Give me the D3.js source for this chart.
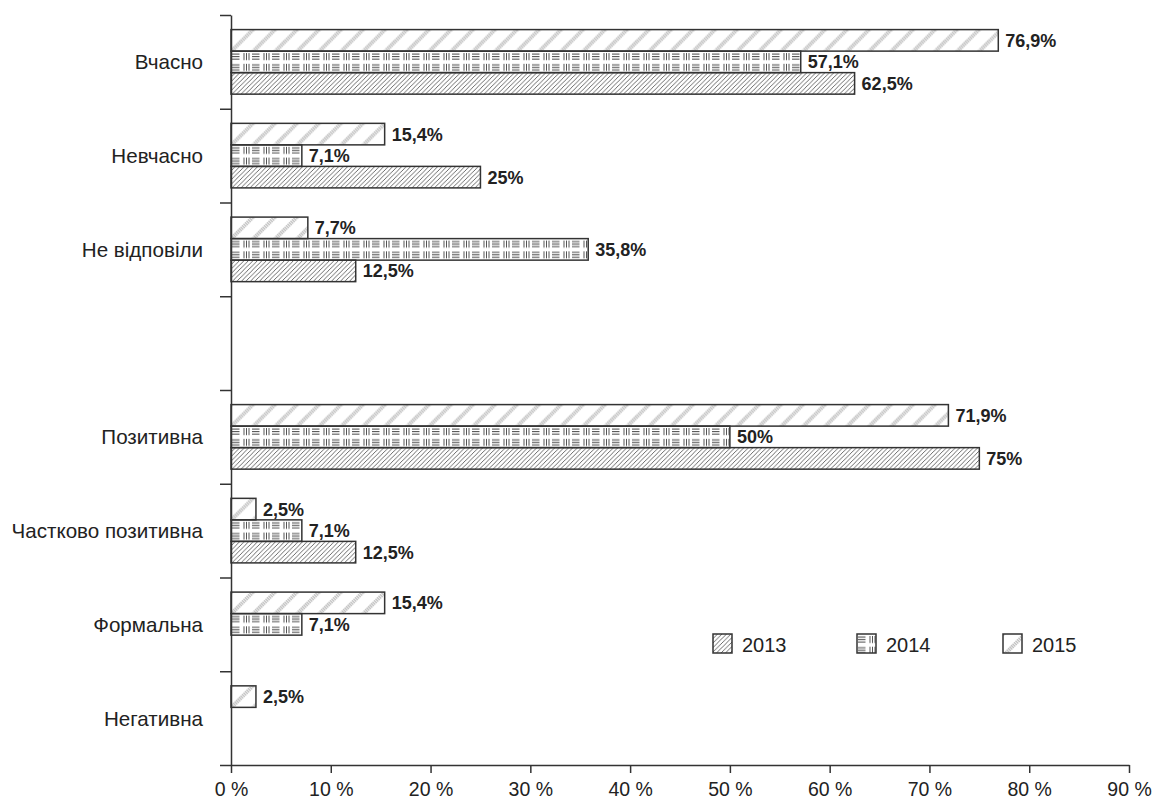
<!DOCTYPE html>
<html>
<head>
<meta charset="utf-8">
<script src="https://cdn.jsdelivr.net/npm/d3@7"></script>
<style>
  body { margin: 0; background: #fff; }
  svg { font-family: "Liberation Sans", Arial, sans-serif; }
</style>
</head>
<body>
<svg width="1155" height="800"></svg>
<script>
// categories (empty slot = gap between the two groups)
var categories = ["Вчасно", "Невчасно", "Не відповіли", "", "Позитивна", "Частково позитивна", "Формальна", "Негативна"];
var years = ["2015", "2014", "2013"];           // order inside each band, top to bottom
var legendYears = ["2013", "2014", "2015"];
var values2013 = [62.5, 25, 12.5, null, 75, 12.5, null, null];
var values2014 = [57.1, 7.1, 35.8, null, 50, 7.1, 7.1, null];
var values2015 = [76.9, 15.4, 7.7, null, 71.9, 2.5, 15.4, 2.5];
var xTicks = [0, 10, 20, 30, 40, 50, 60, 70, 80, 90];

var series = {"2013": values2013, "2014": values2014, "2015": values2015};

var svg = d3.select("svg"),
    margin = {top: 15, left: 231},
    width = 898,
    height = 750,
    g = svg.append("g").attr("transform", "translate(" + margin.left + "," + margin.top + ")");

// patterns
var defs = svg.append("defs");

var p13 = defs.append("pattern").attr("id", "p2013")
    .attr("patternUnits", "userSpaceOnUse").attr("width", 4.5).attr("height", 4.5);
p13.append("path")
    .attr("d", "M-1,5.5L5.5,-1M-1,1L1,-1M3.5,5.5L5.5,3.5")
    .attr("stroke", "#444").attr("stroke-width", 0.8).attr("fill", "none");

var p14 = defs.append("pattern").attr("id", "p2014")
    .attr("patternUnits", "userSpaceOnUse").attr("width", 20).attr("height", 21.5);
[0, 10.75].forEach(function(oy) {
  [2.5, 5, 7.5].forEach(function(d) {
    p14.append("line").attr("x1", 1).attr("x2", 8.5).attr("y1", oy + d + 0.5).attr("y2", oy + d + 0.5)
      .attr("stroke", "#444").attr("stroke-width", 1);
    p14.append("line").attr("x1", 10.5 + d).attr("x2", 10.5 + d).attr("y1", oy + 2).attr("y2", oy + 9)
      .attr("stroke", "#555").attr("stroke-width", 1);
  });
});

var p15 = defs.append("pattern").attr("id", "p2015")
    .attr("patternUnits", "userSpaceOnUse").attr("width", 22).attr("height", 22);
p15.append("path")
    .attr("d", "M0,22L22,0M-11,11L11,-11M11,33L33,11")
    .attr("stroke", "#c4c4c4").attr("stroke-width", 4).attr("stroke-dasharray", "1.5,0.6").attr("fill", "none");

var fills = {"2013": "url(#p2013)", "2014": "url(#p2014)", "2015": "url(#p2015)"};

// scales
var y0 = d3.scaleBand().domain(categories).range([0, height]).paddingInner(0).paddingOuter(0);
var y1 = d3.scaleBand().domain(years).range([14.6, y0.bandwidth() - 14.6]);
var x = d3.scaleLinear().domain([0, 90]).range([0, width]);
var yEdge = d3.scaleLinear().domain([0, categories.length]).range([0, height]);

// bars
var rows = [];
categories.forEach(function(c, i) {
  years.forEach(function(yr) {
    var v = series[yr][i];
    if (v != null) rows.push({cat: c, year: yr, value: v});
  });
});

var bar = g.selectAll(".bar")
  .data(rows)
  .enter().append("g")
    .attr("class", "bar")
    .attr("transform", function(d) { return "translate(0," + (y0(d.cat) + y1(d.year)) + ")"; });

bar.append("rect")
    .attr("x", 0)
    .attr("y", 0)
    .attr("width", function(d) { return x(d.value); })
    .attr("height", y1.bandwidth())
    .attr("fill", function(d) { return fills[d.year]; })
    .attr("stroke", "#333")
    .attr("stroke-width", 1.5);

bar.append("text")
    .attr("x", function(d) { return x(d.value) + 7; })
    .attr("y", y1.bandwidth() / 2)
    .attr("dy", "0.36em")
    .attr("font-size", 18)
    .attr("font-weight", "bold")
    .attr("fill", "#222")
    .text(function(d) { return String(d.value).replace(".", ",") + "%"; });

// y axis (ticks at band edges)
var yAxis = g.append("g")
    .call(d3.axisLeft(yEdge).tickValues(d3.range(0, categories.length + 1)).tickSize(11).tickSizeOuter(0).tickFormat(""));
yAxis.selectAll("path, line").attr("stroke", "#333").attr("stroke-width", 1.5);

// category labels
g.append("g").selectAll("text")
  .data(categories)
  .enter().append("text")
    .attr("x", -28)
    .attr("y", function(d) { return y0(d) + y0.bandwidth() / 2; })
    .attr("dy", "0.36em")
    .attr("text-anchor", "end")
    .attr("font-size", 20.6)
    .attr("fill", "#222")
    .text(function(d) { return d; });

// x axis
var xAxis = g.append("g")
    .attr("transform", "translate(0," + height + ")")
    .call(d3.axisBottom(x).tickValues(xTicks).tickSize(8).tickSizeOuter(0)
      .tickFormat(function(d) { return d + " %"; }));
xAxis.selectAll("path, line").attr("stroke", "#333").attr("stroke-width", 1.5);
xAxis.selectAll("text")
    .attr("y", 31).attr("dy", 0)
    .attr("font-size", 19.5)
    .attr("font-family", "Liberation Sans, Arial, sans-serif")
    .attr("fill", "#222");

// legend
var legendX = [713, 857, 1003];
var legend = svg.append("g").selectAll("g")
  .data(legendYears)
  .enter().append("g")
    .attr("transform", function(d, i) { return "translate(" + legendX[i] + ",634)"; });

legend.append("rect")
    .attr("width", 19)
    .attr("height", 19)
    .attr("fill", function(d) { return fills[d]; })
    .attr("stroke", "#333")
    .attr("stroke-width", 1.5);

legend.append("text")
    .attr("x", 29)
    .attr("y", 18)
    .attr("font-size", 20)
    .attr("fill", "#222")
    .text(function(d) { return d; });
</script>
</body>
</html>
